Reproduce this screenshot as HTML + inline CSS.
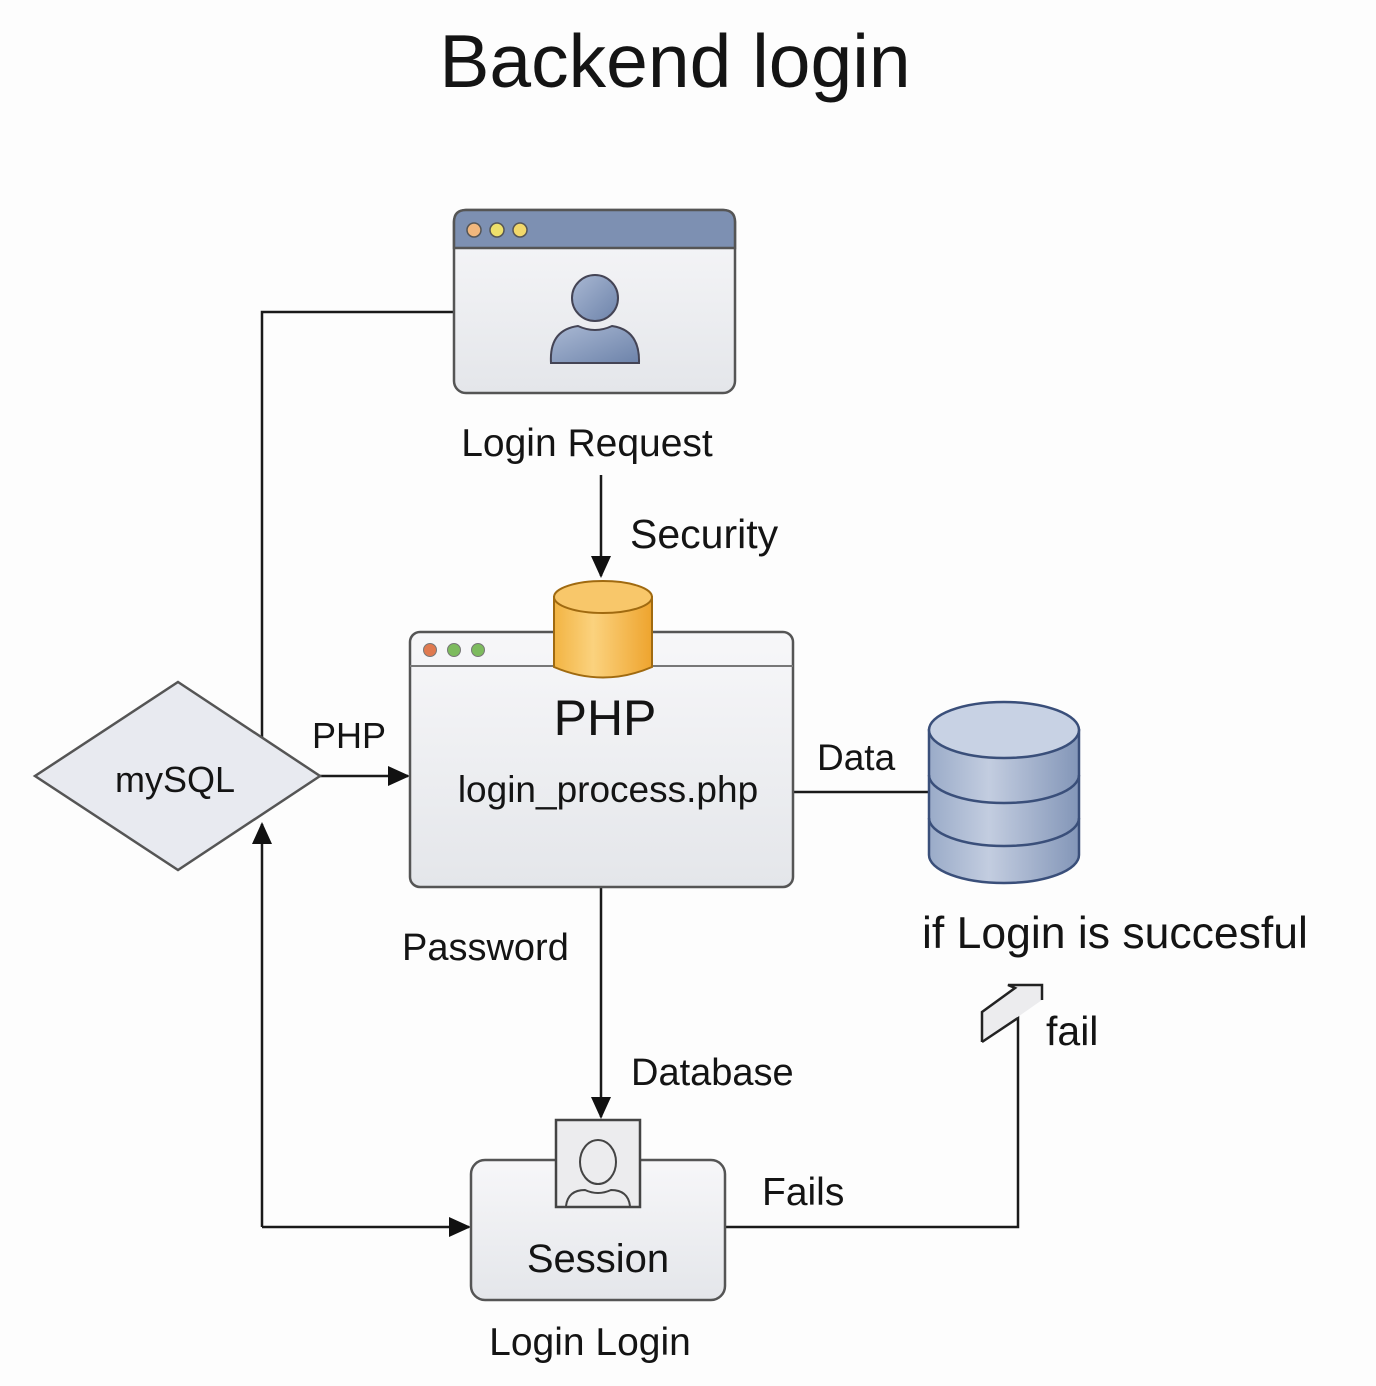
<!DOCTYPE html>
<html><head><meta charset="utf-8"><style>
html,body{margin:0;padding:0;background:#fdfdfd;}
svg{display:block;}
text{font-family:"Liberation Sans",sans-serif;fill:#141414;}
</style></head><body>
<svg width="1376" height="1386" viewBox="0 0 1376 1386" xmlns="http://www.w3.org/2000/svg">
<defs>
<linearGradient id="g1" x1="0" y1="0" x2="0" y2="1"><stop offset="0" stop-color="#f7f7f9"/><stop offset="1" stop-color="#e4e6ea"/></linearGradient>
<linearGradient id="gb" x1="0" y1="0" x2="1" y2="0"><stop offset="0" stop-color="#9aabc8"/><stop offset=".4" stop-color="#c3cde0"/><stop offset="1" stop-color="#8396b8"/></linearGradient>
<linearGradient id="go" x1="0" y1="0" x2="1" y2="0"><stop offset="0" stop-color="#f2b443"/><stop offset=".4" stop-color="#fbd27e"/><stop offset="1" stop-color="#eea42e"/></linearGradient>
<linearGradient id="gp" x1="0" y1="0" x2="1" y2="1"><stop offset="0" stop-color="#a9b8d3"/><stop offset="1" stop-color="#6d83aa"/></linearGradient>
<marker id="ar2" markerWidth="22" markerHeight="20" refX="20" refY="10" orient="auto" markerUnits="userSpaceOnUse"><path d="M0,0 L22,10 L0,20 z" fill="#111"/></marker>
</defs>
<text x="675" y="87" font-size="75" text-anchor="middle">Backend login</text>

<g stroke="#1a1a1a" stroke-width="2.5" fill="none">
<polyline points="454,312 262,312 262,737"/>
<line x1="601" y1="475" x2="601" y2="576" marker-end="url(#ar2)"/>
<line x1="320" y1="776" x2="408" y2="776" marker-end="url(#ar2)"/>
<line x1="793" y1="792" x2="928" y2="792"/>
<line x1="601" y1="887" x2="601" y2="1117" marker-end="url(#ar2)"/>
<polyline points="262,1227 262,824" marker-end="url(#ar2)"/>
<line x1="262" y1="1227" x2="469" y2="1227" marker-end="url(#ar2)"/>
<polyline points="725,1227 1018,1227 1018,1000"/>
</g>
<path d="M982,1042 L982,1012 L1015,988 L1008,985 L1042,985 L1042,1000" fill="#ececee" stroke="#222" stroke-width="2.5"/>
<path d="M982,1042 L1018,1018" stroke="#222" stroke-width="2.5" fill="none"/>

<rect x="454" y="210" width="281" height="183" rx="12" fill="url(#g1)" stroke="#555" stroke-width="2.5"/>
<path d="M454,248 L454,222 Q454,210 466,210 L723,210 Q735,210 735,222 L735,248 z" fill="#7d90b2" stroke="#555" stroke-width="2.5"/>
<circle cx="474" cy="230" r="7" fill="#f1b77d" stroke="#555" stroke-width="1.5"/>
<circle cx="497" cy="230" r="7" fill="#eee06b" stroke="#555" stroke-width="1.5"/>
<circle cx="520" cy="230" r="7" fill="#f2d86a" stroke="#555" stroke-width="1.5"/>
<circle cx="595" cy="298" r="23" fill="url(#gp)" stroke="#445" stroke-width="2"/>
<path d="M551,363 Q549,330 578,326 Q595,334 612,326 Q640,330 639,363 z" fill="url(#gp)" stroke="#445" stroke-width="2"/>

<text x="587" y="456" font-size="39" text-anchor="middle">Login Request</text>
<text x="630" y="548" font-size="41">Security</text>

<rect x="410" y="632" width="383" height="255" rx="10" fill="url(#g1)" stroke="#555" stroke-width="2.5"/>
<line x1="410" y1="666" x2="793" y2="666" stroke="#777" stroke-width="2"/>
<circle cx="430" cy="650" r="6.5" fill="#e07a50" stroke="#777" stroke-width="1"/>
<circle cx="454" cy="650" r="6.5" fill="#7dbb5e" stroke="#777" stroke-width="1"/>
<circle cx="478" cy="650" r="6.5" fill="#7dbb5e" stroke="#777" stroke-width="1"/>
<path d="M554,597 L554,667 Q603,688 652,667 L652,597 z" fill="url(#go)" stroke="#a06a10" stroke-width="2"/>
<ellipse cx="603" cy="597" rx="49" ry="16" fill="#f8c76a" stroke="#a06a10" stroke-width="2"/>
<text x="605" y="735" font-size="50" text-anchor="middle">PHP</text>
<text x="608" y="802" font-size="37" text-anchor="middle">login_process.php</text>

<polygon points="178,682 320,776 178,870 35,776" fill="#e8eaf0" stroke="#555" stroke-width="2.5"/>
<text x="175" y="792" font-size="36" text-anchor="middle">mySQL</text>
<text x="312" y="748" font-size="36">PHP</text>
<text x="817" y="770" font-size="37">Data</text>

<path d="M929,730 L929,855 A75,28 0 0 0 1079,855 L1079,730 z" fill="url(#gb)" stroke="#3a4f7a" stroke-width="2.5"/>
<path d="M929,775 A75,28 0 0 0 1079,775 M929,818 A75,28 0 0 0 1079,818" fill="none" stroke="#3a4f7a" stroke-width="2.5"/>
<ellipse cx="1004" cy="730" rx="75" ry="28" fill="#c8d2e4" stroke="#3a4f7a" stroke-width="2.5"/>
<text x="922" y="948" font-size="44.5">if Login is succesful</text>
<text x="1046" y="1045" font-size="41">fail</text>

<text x="402" y="960" font-size="38">Password</text>
<text x="631" y="1085" font-size="38">Database</text>
<text x="762" y="1205" font-size="39">Fails</text>

<rect x="471" y="1160" width="254" height="140" rx="14" fill="url(#g1)" stroke="#555" stroke-width="2.5"/>
<rect x="556" y="1120" width="84" height="87" fill="#ececee" stroke="#444" stroke-width="2.5"/>
<ellipse cx="598" cy="1162" rx="18" ry="22" fill="none" stroke="#444" stroke-width="2"/>
<path d="M566,1206 Q568,1190 585,1190 Q598,1196 611,1190 Q628,1190 630,1206" fill="none" stroke="#444" stroke-width="2"/>
<text x="598" y="1272" font-size="40" text-anchor="middle">Session</text>
<text x="590" y="1355" font-size="39" text-anchor="middle">Login Login</text>
</svg>
</body></html>
